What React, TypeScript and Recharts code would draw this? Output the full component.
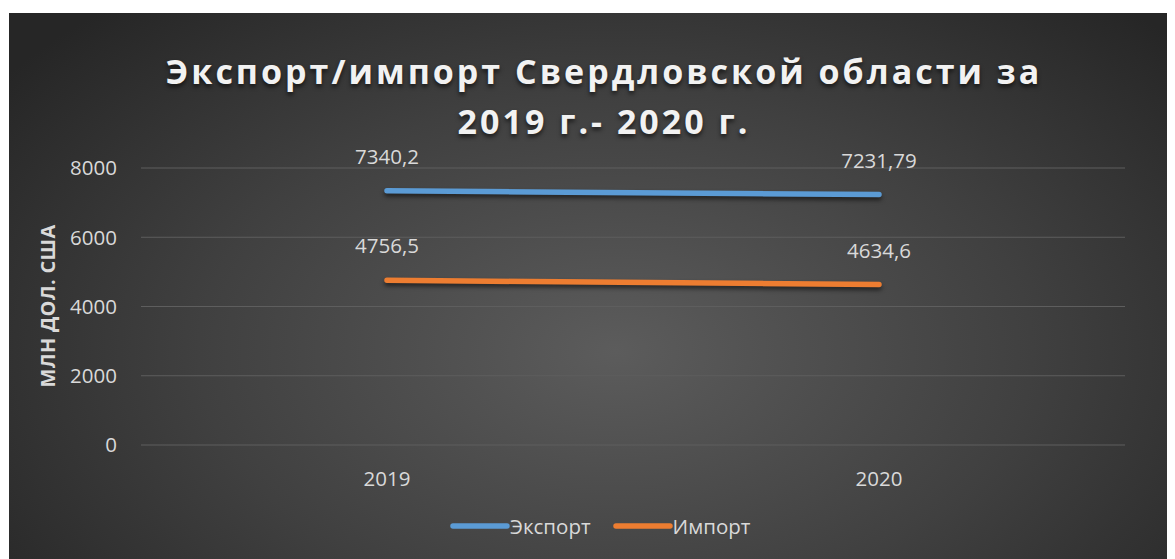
import React from 'react';
import { LineChart, Line, XAxis, YAxis, CartesianGrid, LabelList } from 'recharts';

const years = ['2019', '2020'];
const exportValues = [7340.2, 7231.79];
const importValues = [4756.5, 4634.6];
const yTicks = [0, 2000, 4000, 6000, 8000];

const titleLine1 = 'Экспорт/импорт Свердловской области за';
const titleLine2 = '2019 г.- 2020 г.';
const yAxisTitle = 'МЛН ДОЛ. США';
const exportName = 'Экспорт';
const importName = 'Импорт';

const data = years.map((y, i) => ({ year: y, exp: exportValues[i], imp: importValues[i] }));

const W = 1166;
const H = 546;
const FONT = '"Open Sans", "Noto Sans", sans-serif';
const LABEL_COLOR = '#d9d9d9';

const fmt = (v: number) => String(v).replace('.', ',');

const renderLabel = (props: any) => {
  const { x, y, value } = props;
  return (
    <text x={x} y={y - 27} textAnchor="middle" fill={LABEL_COLOR} fontSize={20.5} fontFamily={FONT}>
      {fmt(value)}
    </text>
  );
};

export default function App() {
  return (
    <div
      style={{
        position: 'relative',
        width: W,
        height: H,
        marginLeft: 1,
        marginTop: 5,
        background: 'radial-gradient(ellipse 65% 85% at 52% 62%, #5c5c5c 0%, #404040 55%, #262626 100%)',
        fontFamily: FONT,
        overflow: 'hidden',
      }}
    >
      <style>{`.recharts-line-curve { filter: drop-shadow(0px 3px 2px rgba(0,0,0,0.55)); }`}</style>
      <div
        style={{
          position: 'absolute',
          left: 0,
          width: W,
          top: 33,
          textAlign: 'center',
          color: '#f2f2f2',
          fontWeight: 700,
          fontSize: 34,
          letterSpacing: 3,
          lineHeight: '50px',
          textShadow: '0px 3px 4px rgba(0,0,0,0.6)',
          paddingLeft: 24,
          boxSizing: 'border-box',
        }}
      >
        <div>{titleLine1}</div>
        <div>{titleLine2}</div>
      </div>
      <div
        style={{
          position: 'absolute',
          left: 38,
          top: 293,
          transform: 'translate(-50%, -50%) rotate(-90deg)',
          whiteSpace: 'nowrap',
          color: LABEL_COLOR,
          fontWeight: 700,
          fontSize: 20,
          letterSpacing: 0.3,
        }}
      >
        {yAxisTitle}
      </div>
      <LineChart
        width={W}
        height={H}
        data={data}
        margin={{ top: 155, right: 50, bottom: 84, left: 0 }}
        style={{ position: 'absolute', left: 0, top: 0 }}
      >
        <CartesianGrid vertical={false} stroke="#5e5e5e" strokeWidth={1} />
        <XAxis
          dataKey="year"
          height={30}
          axisLine={false}
          tickLine={false}
          tickSize={0}
          tickMargin={26}
          padding={{ left: 246, right: 246 }}
          tick={{ fill: LABEL_COLOR, fontSize: 20.5, fontFamily: FONT }}
        />
        <YAxis
          width={132}
          domain={[0, 8000]}
          ticks={yTicks}
          axisLine={false}
          tickLine={false}
          tickSize={0}
          tickMargin={24}
          tick={{ fill: LABEL_COLOR, fontSize: 20.5, fontFamily: FONT }}
        />
        <Line
          dataKey="exp"
          stroke="#5b9bd5"
          strokeWidth={5.5}
          strokeLinecap="round"
          dot={false}
          activeDot={false}
          isAnimationActive={false}
        >
          <LabelList dataKey="exp" content={renderLabel} />
        </Line>
        <Line
          dataKey="imp"
          stroke="#ed7d31"
          strokeWidth={5.5}
          strokeLinecap="round"
          dot={false}
          activeDot={false}
          isAnimationActive={false}
        >
          <LabelList dataKey="imp" content={renderLabel} />
        </Line>
      </LineChart>
      <div
        style={{
          position: 'absolute',
          left: 441,
          top: 500,
          display: 'flex',
          alignItems: 'center',
          color: LABEL_COLOR,
          fontSize: 20.5,
          lineHeight: '26px',
        }}
      >
        <svg width={60} height={10} style={{ display: 'block' }}>
          <line x1={3} y1={5} x2={57} y2={5} stroke="#5b9bd5" strokeWidth={5.5} strokeLinecap="round" />
        </svg>
        <span>{exportName}</span>
        <svg width={60} height={10} style={{ display: 'block', marginLeft: 22 }}>
          <line x1={3} y1={5} x2={57} y2={5} stroke="#ed7d31" strokeWidth={5.5} strokeLinecap="round" />
        </svg>
        <span>{importName}</span>
      </div>
    </div>
  );
}
